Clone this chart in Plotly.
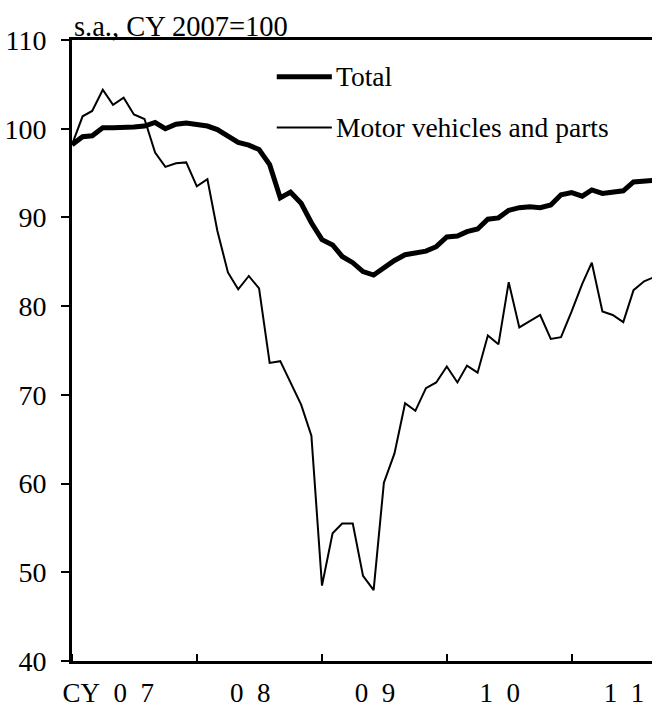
import pandas as pd
import plotly.graph_objects as go

# monthly, Jan 2007 - Sep 2011 (last point sits just past the right edge)
months = pd.date_range("2007-01-01", periods=57, freq="MS")

total = [98.2, 99.1, 99.2, 100.1, 100.1, 100.1, 100.2, 100.3, 100.7, 100.0,
         100.5, 100.65, 100.5, 100.3, 99.9, 99.1, 98.45, 98.15, 97.65, 95.95,
         92.2, 92.85, 91.6, 89.4, 87.5, 86.9, 85.6, 84.9, 83.9, 83.5,
         84.3, 85.15, 85.8, 86.0, 86.2, 86.7, 87.8, 87.9, 88.4, 88.7,
         89.8, 89.95, 90.8, 91.1, 91.2, 91.1, 91.4, 92.55, 92.8, 92.4,
         93.1, 92.7, 92.9, 93.0, 94.0, 94.05, 94.2]

motor = [98.2, 101.4, 102.0, 104.4, 102.7, 103.5, 101.6, 101.1, 97.3, 95.7,
         96.1, 96.2, 93.5, 94.3, 88.5, 83.8, 81.9, 83.4, 82.0, 73.6,
         73.8, 71.3, 68.9, 65.4, 48.5, 54.4, 55.5, 55.5, 49.6, 48.0,
         60.1, 63.4, 69.05, 68.2, 70.75, 71.4, 73.2, 71.4, 73.3, 72.5,
         76.7, 75.7, 82.7, 77.6, 78.3, 79.0, 76.3, 76.5, 79.4, 82.5,
         84.9, 79.4, 79.0, 78.2, 81.8, 82.8, 83.3]

year_starts = ["2007-01-01", "2008-01-01", "2009-01-01", "2010-01-01", "2011-01-01"]
label_pos = ["2007-04-17", "2008-06-05", "2009-06-05", "2010-06-05", "2011-06-03"]
label_text = ["CY\u00a0\u00a00\u00a0\u00a07", "0\u00a0\u00a08", "0\u00a0\u00a09",
              "1\u00a0\u00a00", "1\u00a0\u00a01"]

FONT = "Liberation Serif, Times New Roman, serif"

fig = go.Figure()
fig.add_trace(go.Scatter(x=months, y=total, mode="lines", name="Total",
                         line=dict(color="black", width=5)))
fig.add_trace(go.Scatter(x=months, y=motor, mode="lines", name="Motor vehicles and parts",
                         line=dict(color="black", width=2)))

# hand-made legend (longer line samples than plotly's own)
legend_rows = [("Total", 5, 0.941), ("Motor vehicles and parts", 2, 0.859)]
for text, w, yy in legend_rows:
    fig.add_shape(type="line", xref="paper", yref="paper", x0=0.353, x1=0.448,
                  y0=yy, y1=yy, line=dict(color="black", width=w))
    fig.add_annotation(text=text, xref="paper", yref="paper", x=0.452, y=yy,
                       xanchor="left", yanchor="middle", showarrow=False,
                       font=dict(size=27.5, color="black", family=FONT))

fig.add_annotation(text="s.a., CY 2007=100", xref="paper", yref="paper", x=0, y=1,
                   xanchor="left", yanchor="bottom", showarrow=False, yshift=-4,
                   font=dict(size=28.5, color="black", family=FONT))

fig.update_layout(
    width=652, height=711,
    margin=dict(l=72, r=0, t=40, b=50),
    plot_bgcolor="white", paper_bgcolor="white",
    showlegend=False,
    font=dict(family=FONT, size=27, color="black"),
)
fig.update_xaxes(
    type="date", range=["2007-01-01", "2011-08-24"],
    showline=True, linecolor="black", linewidth=3, mirror=True,
    showgrid=False, zeroline=False,
    tickmode="array", tickvals=label_pos, ticktext=label_text, ticks="",
    ticklabelstandoff=6,
    minor=dict(tickmode="array", tickvals=year_starts, ticks="inside",
               ticklen=7, tickwidth=2, tickcolor="black", showgrid=False),
)
fig.update_yaxes(
    range=[40, 110], dtick=10, tick0=40,
    showline=True, linecolor="black", linewidth=3,
    showgrid=False, zeroline=False,
    ticks="outside", ticklen=8, tickwidth=2, tickcolor="black",
    ticklabelstandoff=9,
    tickfont=dict(size=28),
)

fig.write_html("out.html", config={"displayModeBar": False},
               post_script="document.body.style.margin='0';")
